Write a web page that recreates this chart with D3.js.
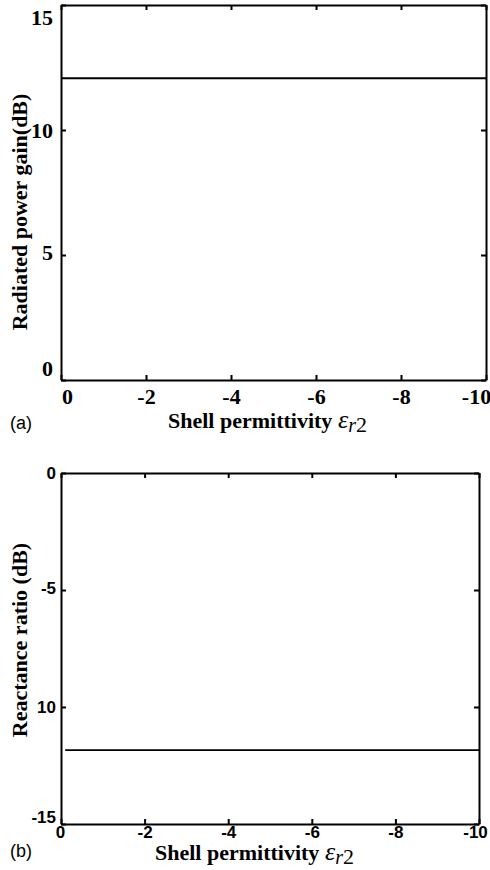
<!DOCTYPE html>
<html>
<head>
<meta charset="utf-8">
<script src="https://cdn.jsdelivr.net/npm/d3@7"></script>
<style>
  html, body { margin: 0; padding: 0; background: #fff; }
  svg { display: block; }
  .domain { stroke: #000; stroke-width: 2; }
  .tick line { stroke: #000; stroke-width: 2; }
</style>
</head>
<body>
<svg id="chart" width="490" height="870"></svg>
<script>
// panel (a) data
const permA = [0, -2, -4, -6, -8, -10]
const gainDb = [12.07, 12.07, 12.07, 12.07, 12.07, 12.07]
const yTicksA = [0, 5, 10, 15]

// panel (b) data
const permB = [-0.1, -2, -4, -6, -8, -10]
const reactanceDb = [-11.84, -11.84, -11.84, -11.84, -11.84, -11.84]
const yTicksB = [0, -5, -10, -15]
const yLabelsB = ["0", "-5", "10", "-15"]

const xTicks = [0, -2, -4, -6, -8, -10]

const svg = d3.select("#chart")
const serif = "'Liberation Serif', 'Times New Roman', serif"
const sans = "'Liberation Sans', Arial, sans-serif"

// draws one panel: box + ticks + labels + flat line
function drawPanel(cfg) {
  const x = d3.scaleLinear().domain([0, -10]).range([cfg.left, cfg.right])
  const y = d3.scaleLinear().domain(cfg.yDomain).range([cfg.bottom, cfg.top])
  const g = svg.append("g")

  // bottom axis with labels
  const bottom = g.append("g")
    .attr("transform", `translate(0,${cfg.bottom})`)
    .call(d3.axisBottom(x).tickValues(xTicks).tickSizeInner(-5).tickSizeOuter(0)
      .tickPadding(cfg.xPad).tickFormat(d => d === 0 ? "0" : String(d)))
  bottom.selectAll("text")
    .attr("font-family", cfg.tickFont).attr("font-weight", "bold")
    .attr("font-size", cfg.tickSize).attr("fill", "#000")
    .attr("dx", d => cfg.xShift(d))

  // top / right axes (ticks only)
  g.append("g").attr("transform", `translate(0,${cfg.top})`)
    .call(d3.axisTop(x).tickValues(xTicks).tickSizeInner(-5).tickSizeOuter(0).tickFormat(""))
  g.append("g").attr("transform", `translate(${cfg.right},0)`)
    .call(d3.axisRight(y).tickValues(cfg.yTicks).tickSizeInner(-5).tickSizeOuter(0).tickFormat(""))

  // left axis with labels
  const left = g.append("g")
    .attr("transform", `translate(${cfg.left},0)`)
    .call(d3.axisLeft(y).tickValues(cfg.yTicks).tickSizeInner(-5).tickSizeOuter(0)
      .tickPadding(cfg.yPad).tickFormat((d, i) => cfg.yLabels[i]))
  left.selectAll("text")
    .attr("font-family", cfg.tickFont).attr("font-weight", "bold")
    .attr("font-size", cfg.tickSize).attr("fill", "#000")
    .attr("transform", d => `translate(0,${cfg.yShift(d)})`)

  // data line
  const line = d3.line().x(d => x(d[0])).y(d => y(d[1]))
  g.append("path")
    .datum(d3.zip(cfg.xs, cfg.ys))
    .attr("d", line)
    .attr("fill", "none")
    .attr("stroke", "#000")
    .attr("stroke-width", 1.8)

  // y title
  g.append("text")
    .attr("transform", `translate(27,${cfg.yTitleY}) rotate(-90)`)
    .attr("text-anchor", "middle")
    .attr("font-family", serif).attr("font-weight", "bold").attr("font-size", 22)
    .text(cfg.yTitle)

  // x title: Shell permittivity ε_r2
  const t = g.append("text")
    .attr("x", cfg.xTitleX).attr("y", cfg.xTitleY)
    .attr("font-family", serif).attr("font-weight", "bold").attr("font-size", 22)
  t.append("tspan").text("Shell permittivity ")
  t.append("tspan").attr("font-style", "italic").attr("font-weight", "normal")
    .attr("font-size", 26).text("ε")
  t.append("tspan").attr("font-style", "italic").attr("font-weight", "normal")
    .attr("font-size", 20).attr("dy", 4).text("r")
  t.append("tspan").attr("font-weight", "normal").attr("font-size", 22).text("2")

  // panel letter
  g.append("text")
    .attr("x", 10).attr("y", cfg.letterY)
    .attr("font-family", sans).attr("font-size", 18)
    .text(cfg.letter)
}

drawPanel({
  left: 61, right: 486, top: 5, bottom: 380,
  yDomain: [0, 15], yTicks: yTicksA, yLabels: yTicksA.map(String),
  xs: permA, ys: gainDb,
  tickFont: serif, tickSize: 22, xPad: 8, yPad: 8,
  xShift: d => d === 0 ? 6 : d === -10 ? -10 : 0,
  yShift: d => d === 15 ? 12 : d === 0 ? -12 : d === 5 ? -3 : 0,
  yTitle: "Radiated power gain(dB)", yTitleY: 212,
  xTitleX: 168, xTitleY: 428,
  letter: "(a)", letterY: 429
})

drawPanel({
  left: 61, right: 479, top: 473, bottom: 824,
  yDomain: [-15, 0], yTicks: yTicksB, yLabels: yLabelsB,
  xs: permB, ys: reactanceDb,
  tickFont: sans, tickSize: 17, xPad: 2, yPad: 5,
  xShift: d => d === 0 ? -1 : d === -10 ? -4 : 0,
  yShift: d => d === -15 ? -7 : d === -5 ? -2 : 0,
  yTitle: "Reactance ratio (dB)", yTitleY: 640,
  xTitleX: 155, xTitleY: 860,
  letter: "(b)", letterY: 857
})
</script>
</body>
</html>
